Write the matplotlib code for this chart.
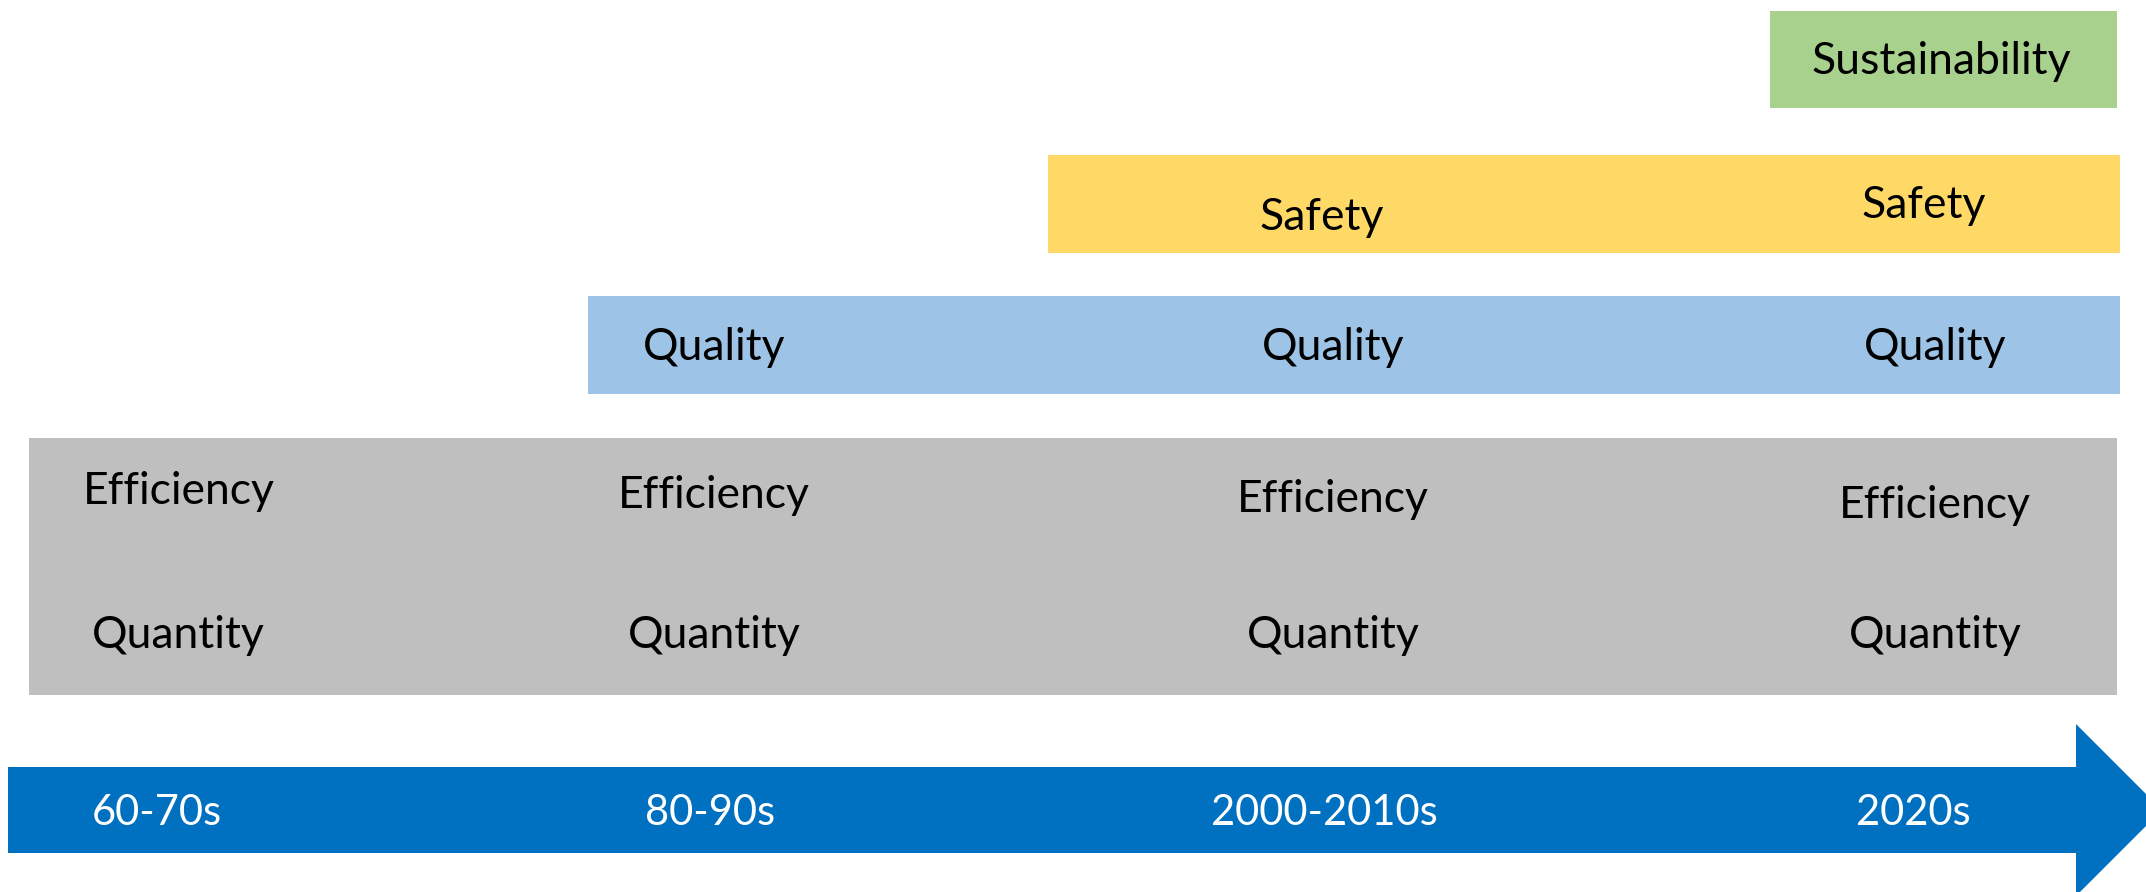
import matplotlib.pyplot as plt
from matplotlib.patches import Polygon, Rectangle

# timeline data
eras = ["60-70s", "80-90s", "2000-2010s", "2020s"]
themes = ["Quantity", "Efficiency", "Quality", "Safety", "Sustainability"]
first_era = [0, 0, 1, 2, 3]
theme_colors = ["#BFBFBF", "#BFBFBF", "#9DC3E6", "#FFD966", "#A9D18E"]

# layout in pixels (figure is drawn 1:1 in pixel coordinates)
W, H = 2146, 892
era_label_x = [157, 710, 1324, 1913]
band_left = [29, 588, 1048, 1770]
band_right = [2117, 2117, 2120, 2120, 2117]
band_top = [438, 438, 296, 155, 11]
band_bottom = [695, 695, 394, 253, 108]
text_x = {
    "Quantity": [178, 714, 1333, 1935],
    "Efficiency": [179, 714, 1333, 1935],
    "Quality": [None, 714, 1333, 1935],
    "Safety": [None, None, 1322, 1924],
    "Sustainability": [None, None, None, 1941],
}
text_y = {
    "Quantity": [635, 635, 635, 635],
    "Efficiency": [491, 495, 500, 506],
    "Quality": [None, 347, 347, 347],
    "Safety": [None, None, 217, 205],
    "Sustainability": [None, None, None, 62],
}

FONT = "Lato"
SIZE = 32

fig = plt.figure(figsize=(W / 100, H / 100), dpi=100)
ax = fig.add_axes([0, 0, 1, 1])
ax.set_xlim(0, W)
ax.set_ylim(H, 0)
ax.axis("off")

drawn = set()
for i, theme in enumerate(themes):
    key = (band_top[i], band_bottom[i])
    if key not in drawn:
        drawn.add(key)
        left = band_left[first_era[i]]
        ax.add_patch(Rectangle((left, band_top[i]), band_right[i] - left,
                               band_bottom[i] - band_top[i],
                               facecolor=theme_colors[i], edgecolor="none"))
    for j in range(first_era[i], len(eras)):
        ax.text(text_x[theme][j], text_y[theme][j], theme,
                ha="center", va="center", fontsize=SIZE, family=FONT,
                color="black")

# blue arrow along the bottom
body_top, body_bot, head_x, head_top = 767, 853, 2076, 724
mid = (body_top + body_bot) / 2
ax.add_patch(Polygon([(8, body_top), (head_x, body_top), (head_x, head_top),
                      (head_x + (mid - head_top), mid),
                      (head_x, 2 * mid - head_top),
                      (head_x, body_bot), (8, body_bot)],
                     closed=True, facecolor="#0070C0", edgecolor="none"))

for x, label in zip(era_label_x, eras):
    ax.text(x, mid + 3, label, ha="center", va="center", fontsize=30,
            family=FONT, color="white")

fig.savefig("out.png", dpi=100)
